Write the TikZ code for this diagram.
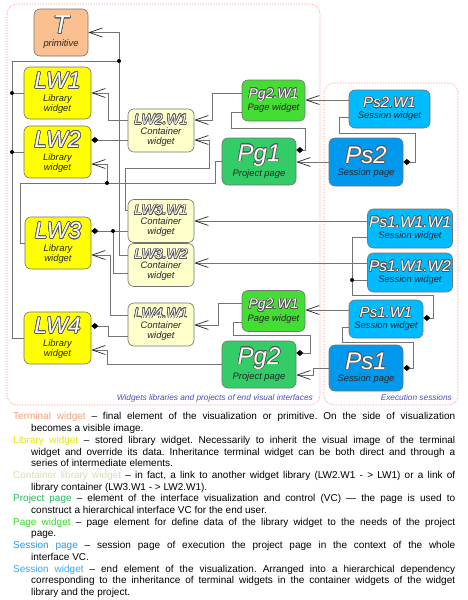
\documentclass[tikz,border=0pt]{standalone}
\usepackage{fontspec}
\setmainfont{Liberation Sans}
\usepackage{contour}
\contourlength{0.6pt}
\contournumber{20}
\usetikzlibrary{arrows.meta}
\definecolor{tcol}{HTML}{FAC090}
\definecolor{lwcol}{HTML}{FFFF00}
\definecolor{cwcol}{HTML}{FFFFCC}
\definecolor{pwcol}{HTML}{44DD33}
\definecolor{ppcol}{HTML}{33CC66}
\definecolor{swcol}{HTML}{00BBFF}
\definecolor{spcol}{HTML}{0099EE}
\definecolor{ttlline}{HTML}{555555}
\definecolor{grpblue}{HTML}{4B4BC8}
\definecolor{grpred}{HTML}{FF8080}
\definecolor{ltcol}{HTML}{F4A07A}
\definecolor{llcol}{HTML}{E6E600}
\definecolor{lccol}{HTML}{DCDCB0}
\definecolor{lpcol}{HTML}{22BB55}
\definecolor{lwgcol}{HTML}{33DD22}
\definecolor{lspcol}{HTML}{2299EE}
\definecolor{lswcol}{HTML}{33AAFF}
\newcommand\ttl[2]{{\fontsize{#1}{#1}\selectfont\itshape\color{white}\contour{ttlline}{#2}}}
\newcommand\lgd[3]{\par\noindent\hangindent=18pt\hangafter=1\textcolor{#1}{#2} #3}
\tikzset{
  box/.style={draw=black!55, rounded corners=6pt, line width=0.6pt, inner sep=0pt,
    align=center, font=\fontsize{9.4}{10}\selectfont\itshape, text=black!85},
  tnode/.style={box, fill=tcol, minimum width=54pt, minimum height=47pt},
  lw/.style={box, fill=lwcol, minimum width=67pt, minimum height=52pt},
  cw/.style={box, fill=cwcol, minimum width=66pt, minimum height=43pt},
  pw/.style={box, fill=pwcol, minimum width=63pt, minimum height=41pt},
  pp/.style={box, fill=ppcol, minimum width=74pt, minimum height=47pt},
  sw/.style={box, fill=swcol, minimum height=38pt},
  sp/.style={box, fill=spcol, minimum width=74pt, minimum height=47pt},
  conn/.style={draw=black!55, line width=0.7pt},
  inh/.style={conn, -{Straight Barb[length=13pt,width=9pt,color=black!85]}},
  comp/.style={conn, {Diamond[length=7pt,width=6pt,color=black]}-},
  grp/.style={draw=grpred, densely dotted, rounded corners=10pt, line width=0.6pt},
  grplabel/.style={font=\fontsize{8.3}{9}\selectfont\itshape, text=grpblue, anchor=base east, inner sep=0pt},
}
\begin{document}
\begin{tikzpicture}[x=1pt,y=-1pt]
\useasboundingbox[fill=white] (0,0) rectangle (467,600);
% groups
\draw[grp] (7,4) rectangle (320,405);
\draw[grp] (324,83) rectangle (458,405);
\node[grplabel] (gl1) at (313,400) {Widgets libraries and projects of end visual interfaces};
\node[grplabel] (gl2) at (452,400) {Execution sessions};
% nodes
\node[tnode] (T) at (61,32.5) {\ttl{26}{T}\\[3pt]primitive};
\node[lw] (LW1) at (57.5,93) {\ttl{23}{LW1}\\[3pt]Library\\widget};
\node[lw] (LW2) at (57.5,152) {\ttl{23}{LW2}\\[3pt]Library\\widget};
\node[lw, minimum width=66pt] (LW3) at (58,243) {\ttl{23}{LW3}\\[3pt]Library\\widget};
\node[lw] (LW4) at (57.5,338) {\ttl{23}{LW4}\\[3pt]Library\\widget};
\node[cw] (LW2W1) at (161,130.5) {\ttl{14}{LW2.W1}\\Container\\widget};
\node[cw] (LW3W1) at (161,221) {\ttl{14}{LW3.W1}\\Container\\widget};
\node[cw] (LW3W2) at (161,265) {\ttl{14}{LW3.W2}\\Container\\widget};
\node[cw] (LW4W1) at (161,324.5) {\ttl{14}{LW4.W1}\\Container\\widget};
\node[pw] (Pg2W1a) at (273.5,100.5) {\ttl{14}{Pg2.W1}\\[1pt]Page widget};
\node[pp] (Pg1) at (259,161.5) {\ttl{24}{Pg1}\\[2pt]Project page};
\node[pw] (Pg2W1b) at (273.5,311) {\ttl{14}{Pg2.W1}\\[1pt]Page widget};
\node[pp] (Pg2) at (259,364.5) {\ttl{24}{Pg2}\\[2pt]Project page};
\node[sw, minimum width=81pt] (Ps2W1) at (389.5,109) {\ttl{15}{Ps2.W1}\\[1pt]Session widget};
\node[sp, minimum height=48pt] (Ps2) at (366,162) {\ttl{24}{Ps2}\\[2pt]Session page};
\node[sw, minimum width=85pt, minimum height=39pt] (Ps1W1W1) at (410,228.5) {\ttl{15.5}{Ps1.W1.W1}\\[1pt]Session widget};
\node[sw, minimum width=85pt, minimum height=39pt] (Ps1W1W2) at (410,272.5) {\ttl{15.5}{Ps1.W1.W2}\\[1pt]Session widget};
\node[sw, minimum width=74pt] (Ps1W1) at (386,319) {\ttl{15}{Ps1.W1}\\[1pt]Session widget};
\node[sp, minimum height=46pt] (Ps1) at (366,368) {\ttl{24}{Ps1}\\[2pt]Session page};
% junctions
\coordinate (jT) at (119,61);
\coordinate (jL1) at (12,93);
\coordinate (jL2) at (12,152);
\coordinate (jP) at (107,183);
\coordinate (j3) at (113,231);
\coordinate (jS) at (352,280);
% connectors
\draw[inh] (LW3W2.west |- 0,255) -- (119,255) -- (119,32.5) -- (T.east);
\draw[conn] (jT) -- (12,61) -- (12,338) -- (LW4.west);
\draw[conn] (jL1) -- (LW1.west);
\draw[conn] (jL2) -- (LW2.west);
\draw[inh] (LW2W1.west |- 0,120) -- (108,120) |- (LW1.east);
\draw[comp] (LW2.east |- 0,140) -- (LW2W1.west |- 0,140);
\draw[conn] (Pg1.west) -| (215,183) -| (20,243) -- (LW3.west);
\draw[inh] (jP) |- (LW2.east |- 0,164);
\draw[inh] (LW3W1.west |- 0,210) -- (125,210) -- (125,168) -- (209,168) -- (209,140) -- (LW2W1.east |- 0,140);
\draw[inh] (Pg2W1a.west |- 0,93) -- (212,93) -- (212,120) -- (LW2W1.east |- 0,120);
\draw[inh] (Ps2W1.west |- 0,100) -- (Pg2W1a.east |- 0,100);
\draw[comp] (Pg1.east |- 0,150) -- (305,150) -- (305,128) -- (231,128) -- (231,112) -- (Pg2W1a.west |- 0,112);
\draw[inh] (Ps2.west) -- (Pg1.east |- Ps2.west);
\draw[comp] (Ps2.east) -- (415,162) -- (415,133) -- (339,133) -- (339,117) -- (Ps2W1.west |- 0,117);
\draw[comp] (LW3.east |- 0,231) -- (LW3W1.west |- 0,231);
\draw[conn] (j3) |- (LW3W2.west |- 0,273);
\draw[inh] (LW4W1.west |- 0,315) -- (110,315) -- (110,255) -- (LW3.east |- 0,255);
\draw[comp] (LW4.east |- 0,326) -- (108,326) -- (108,336) -- (LW4W1.west |- 0,336);
\draw[inh] (Pg2.west) -- (107,364.5) -- (107,350) -- (LW4.east |- 0,350);
\draw[inh] (Pg2W1b.west |- 0,303) -- (218,303) -- (218,325) -- (LW4W1.east |- 0,325);
\draw[inh] (Ps1W1.west |- 0,310) -- (Pg2W1b.east |- 0,310);
\draw[comp] (Pg2.east |- 0,353) -- (310,353) -- (310,335) -- (233,335) -- (233,322) -- (Pg2W1b.west |- 0,322);
\draw[inh] (Ps1.west) -- (313,368) -- (313,375) -- (Pg2.east |- 0,375);
\draw[comp] (Ps1.east) -- (413,368) -- (413,342) -- (342,342) -- (342,327) -- (Ps1W1.west |- 0,327);
\draw[inh] (Ps1W1W1.west |- 0,221) -- (LW3W1.east |- 0,221);
\draw[inh] (Ps1W1W2.west |- 0,263) -- (LW3W2.east |- 0,263);
\draw[comp] (Ps1W1.east |- 0,318) -- (433,318) -- (433,295) -- (352,295) -- (352,237) -- (Ps1W1W1.west |- 0,237);
\draw[conn] (jS) -- (Ps1W1W2.west |- jS);
\foreach \j in {jT,jL1,jL2,jP,j3,jS} \fill (\j) circle (2pt);
% legend
\node[anchor=north west, inner sep=0pt, text width=442pt, align=justify, font=\fontsize{10}{11.7}\selectfont] (legend) at (13,408) {%
\frenchspacing\tolerance=9999\hyphenpenalty=10000\parskip=0pt
\lgd{ltcol}{Terminal widget}{-- final element of the visualization or primitive. On the side of visualization\linebreak becomes a visible image.}
\lgd{llcol}{Library widget}{-- stored library widget. Necessarily to inherit the visual image of the terminal\linebreak widget and override its data. Inheritance terminal widget can be both direct and through a\linebreak series of intermediate elements.}
\lgd{lccol}{Container library widget}{-- in fact, a link to another widget library (LW2.W1 - > LW1) or a link of\linebreak library container (LW3.W1 - > LW2.W1).}
\lgd{lpcol}{Project page}{-- element of the interface visualization and control (VC) --- the page is used to\linebreak construct a hierarchical interface VC for the end user.}
\lgd{lwgcol}{Page widget}{-- page element for define data of the library widget to the needs of the project\linebreak page.}
\lgd{lspcol}{Session page}{-- session page of execution the project page in the context of the whole\linebreak interface VC.}
\lgd{lswcol}{Session widget}{-- end element of the visualization. Arranged into a hierarchical dependency\linebreak corresponding to the inheritance of terminal widgets in the container widgets of the widget\linebreak library and the project.}\par};
\end{tikzpicture}
\end{document}
